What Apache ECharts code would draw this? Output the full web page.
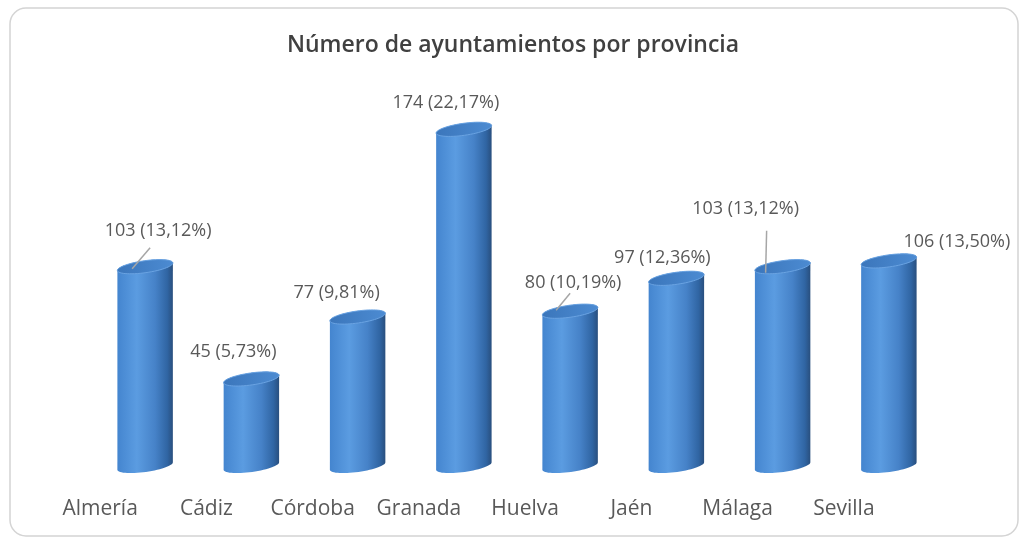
<!DOCTYPE html>
<html>
<head>
<meta charset="utf-8">
<script src="https://cdn.jsdelivr.net/npm/echarts@6/dist/echarts.min.js"></script>
<style>
  html, body { margin: 0; padding: 0; background: #fff; }
  #chart { width: 1026px; height: 540px; }
</style>
</head>
<body>
<div id="chart"></div>
<script>
// datos
const categories = ['Almería', 'Cádiz', 'Córdoba', 'Granada', 'Huelva', 'Jaén', 'Málaga', 'Sevilla'];
const counts = [103, 45, 77, 174, 80, 97, 103, 106];
const percents = ['13,12', '5,73', '9,81', '22,17', '10,19', '12,36', '13,12', '13,50'];

// posicion de las etiquetas respecto a la tapa del cilindro (colocadas a mano en el original)
const labelOffsets = [[13, -36], [-18, -27], [-21, -24], [-18, -26], [3, -28], [-14, -20], [-37, -58], [68, -19]];
// lineas guia de algunas etiquetas
const leaderLines = {
  0: [[5, -19], [-13, 2]],
  4: [[0, -18], [-14, -1]],
  6: [[-16, -36], [-17, 6]]
};

const RX = 28, RY = 6, TILT = 8 * Math.PI / 180;

// puntos de una elipse inclinada (lado derecho mas alto)
function ellipsePts(cx, cy, t0, t1, n) {
  var pts = [];
  var ux = Math.cos(TILT), uy = -Math.sin(TILT);
  var vx = Math.sin(TILT), vy = Math.cos(TILT);
  for (var k = 0; k <= n; k++) {
    var t = t0 + (t1 - t0) * k / n;
    var a = RX * Math.cos(t), b = RY * Math.sin(t);
    pts.push([cx + a * ux + b * vx, cy + a * uy + b * vy]);
  }
  return pts;
}

function renderItem(params, api) {
  var i = api.value(0);
  var v = api.value(1);
  var top = api.coord([i, v]);
  var base = api.coord([i, 0]);
  var cx = top[0];

  var bodyPts = ellipsePts(cx, base[1], Math.PI, 0, 30).concat(ellipsePts(cx, top[1], 0, -Math.PI, 30));
  var capPts = ellipsePts(cx, top[1], 0, 2 * Math.PI, 60);

  var children = [
    {
      type: 'polygon',
      shape: { points: bodyPts },
      style: {
        fill: new echarts.graphic.LinearGradient(0, 0, 1, 0, [
          { offset: 0, color: '#4485cf' },
          { offset: 0.35, color: '#5b9ce1' },
          { offset: 0.68, color: '#4682c8' },
          { offset: 0.9, color: '#3065a3' },
          { offset: 1, color: '#294f7e' }
        ])
      }
    },
    {
      type: 'polygon',
      shape: { points: capPts },
      style: {
        fill: new echarts.graphic.LinearGradient(0, 0, 1, 0, [
          { offset: 0, color: '#3b76bb' },
          { offset: 1, color: '#4c8bd2' }
        ]),
        stroke: '#6aa3e2',
        lineWidth: 1
      }
    }
  ];

  var off = labelOffsets[params.dataIndex];
  var ln = leaderLines[params.dataIndex];
  if (ln) {
    children.push({
      type: 'line',
      shape: { x1: cx + ln[0][0], y1: top[1] + ln[0][1], x2: cx + ln[1][0], y2: top[1] + ln[1][1] },
      style: { stroke: '#a6a6a6', lineWidth: 1.5 }
    });
  }
  children.push({
    type: 'text',
    x: cx + off[0],
    y: top[1] + off[1],
    style: {
      text: counts[params.dataIndex] + ' (' + percents[params.dataIndex] + '%)',
      fill: '#595959',
      fontSize: 18,
      fontFamily: 'Open Sans',
      align: 'center',
      verticalAlign: 'middle'
    }
  });
  return { type: 'group', children: children };
}

var chart = echarts.init(document.getElementById('chart'));
chart.setOption({
  backgroundColor: '#fff',
  animation: false,
  title: {
    text: 'Número de ayuntamientos por provincia',
    left: 'center',
    top: 34,
    padding: 0,
    textStyle: { fontFamily: 'Open Sans', fontSize: 23, fontWeight: 600, color: '#404040' }
  },
  graphic: [{
    type: 'rect',
    shape: { x: 10, y: 8, width: 1008, height: 528, r: 16 },
    style: { fill: 'none', stroke: '#d4d4d4', lineWidth: 1.5 },
    silent: true
  }],
  grid: { left: 92, right: 84, top: 79, bottom: 74 },
  xAxis: {
    type: 'category',
    data: categories,
    axisLine: { show: false },
    axisTick: { show: false },
    axisLabel: {
      interval: 0,
      hideOverlap: false,
      margin: 33,
      padding: [0, 90, 0, 0],
      color: '#595959',
      fontFamily: 'Open Sans',
      fontSize: 21
    }
  },
  yAxis: {
    type: 'value',
    min: 0,
    max: 200,
    show: false,
    splitLine: { show: false }
  },
  series: [{
    type: 'custom',
    renderItem: renderItem,
    encode: { x: 0, y: 1 },
    data: counts.map(function (c, i) { return [i, c]; })
  }]
});
</script>
</body>
</html>
